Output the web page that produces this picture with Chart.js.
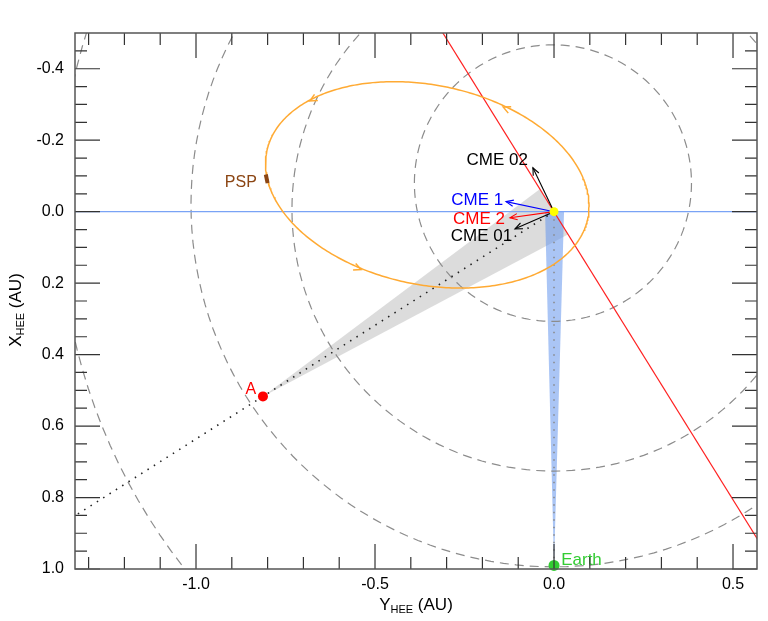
<!DOCTYPE html>
<html>
<head>
<meta charset="utf-8">
<script src="https://cdn.jsdelivr.net/npm/chart.js@4.4.0/dist/chart.umd.min.js"></script>
<style>
  html, body { margin: 0; padding: 0; background: #fff; }
</style>
</head>
<body>
<canvas id="hee" width="768" height="621"></canvas>
<script>
// axis ranges and tick labels (AU)
const xRange = [-1.338, 0.567];
const yRange = [-0.5, 1.0];
const xTickLabels = [-1.0, -0.5, 0.0, 0.5];
const yTickLabels = [-0.4, -0.2, 0.0, 0.2, 0.4, 0.6, 0.8, 1.0];

// dashed circles: centre x, centre y, radius
const circleX = [-0.003, 0.0, 0.0, 0.256];
const circleY = [-0.080, -0.006, -0.020, -0.011];
const circleR = [0.387, 0.732, 1.014, 1.637];

// PSP orbit (ellipse) and its direction arrows
const orbitCentre = [-0.354, -0.075];
const orbitAxes = [0.458, 0.279];
const orbitTiltDeg = 11.9;
const orbitArrowX = [-0.682, -0.142, -0.539];
const orbitArrowY = [-0.310, -0.293, 0.162];

// bodies
const sunPos = [0, 0];
const staPos = [-0.813, 0.517];
const earthPos = [0, 0.99];
const pspX = [-0.805, -0.800];
const pspY = [-0.104, -0.080];

// fields of view
const staWedgeX = [-0.813, -0.040, 0.040];
const staWedgeY = [0.517, -0.063, 0.063];
const earthWedgeX = [-0.025, 0.028, 0.0];
const earthWedgeY = [0.0, 0.0, 0.99];
const staLineEnd = [-1.338, 0.851];

// red line through the sun
const redLineX = [-0.316, 0.62];
const redLineY = [-0.509, 1.0];

// CME directions
const cmeNames = ['CME 02', 'CME 1', 'CME 2', 'CME 01'];
const cmeTipX = [-0.059, -0.134, -0.123, -0.109];
const cmeTipY = [-0.123, -0.028, 0.017, 0.048];
const cmeLabelX = [-0.073, -0.142, -0.137, -0.117];
const cmeLabelY = [-0.145, -0.031, 0.020, 0.070];
const cmeColors = ['#000000', '#0000ff', '#ff0000', '#000000'];

const FONT = '"Liberation Sans", Arial, Helvetica, sans-serif';

function pts(xs, ys) {
    return xs.map((x, i) => ({ x: x, y: ys[i] }));
}

function circlePoints(cx, cy, r) {
    const out = [];
    for (let k = 0; k <= 360; k += 2) {
        const t = k * Math.PI / 180;
        out.push({ x: cx + r * Math.cos(t), y: cy + r * Math.sin(t) });
    }
    return out;
}

// orbit traced in the direction of motion
const tilt = orbitTiltDeg * Math.PI / 180;
const orbitPts = [];
for (let k = 0; k <= 360; k += 1) {
    const t = -k * Math.PI / 180;
    const ca = orbitAxes[0] * Math.cos(t), sb = orbitAxes[1] * Math.sin(t);
    orbitPts.push({
        x: orbitCentre[0] + ca * Math.cos(tilt) - sb * Math.sin(tilt),
        y: orbitCentre[1] + ca * Math.sin(tilt) + sb * Math.cos(tilt)
    });
}

const datasets = [];

// wedges
datasets.push({
    data: pts(staWedgeX.concat(staWedgeX[0]), staWedgeY.concat(staWedgeY[0])),
    borderWidth: 0, borderColor: 'rgba(0,0,0,0)',
    backgroundColor: 'rgba(205,205,205,0.7)', fill: 'shape', order: 20
});
datasets.push({
    data: pts(earthWedgeX.concat(earthWedgeX[0]), earthWedgeY.concat(earthWedgeY[0])),
    borderWidth: 0, borderColor: 'rgba(0,0,0,0)',
    backgroundColor: 'rgba(100,149,237,0.55)', fill: 'shape', order: 19
});

// circles
circleR.forEach((r, i) => {
    datasets.push({
        data: circlePoints(circleX[i], circleY[i], r),
        borderColor: '#8c8c8c', borderWidth: 1.2, borderDash: [9, 6], order: 15
    });
});

// horizontal blue line
datasets.push({
    data: [{ x: xRange[0], y: 0 }, { x: xRange[1], y: 0 }],
    borderColor: '#7aa3f5', borderWidth: 1.4, order: 14
});

// dotted lines
datasets.push({
    data: [{ x: sunPos[0], y: sunPos[1] }, { x: staLineEnd[0], y: staLineEnd[1] }],
    borderColor: '#222', borderWidth: 1.6, borderDash: [1.5, 6], order: 13
});
datasets.push({
    data: [{ x: sunPos[0], y: sunPos[1] }, { x: earthPos[0], y: earthPos[1] }],
    borderColor: '#888', borderWidth: 1.5, borderDash: [1.5, 6], order: 13
});

// red line
datasets.push({
    data: pts(redLineX, redLineY),
    borderColor: '#ff2020', borderWidth: 1.2, order: 12
});

// orbit
datasets.push({
    data: orbitPts,
    borderColor: '#ffaa33', borderWidth: 1.5, order: 11
});

// CME shafts
cmeNames.forEach((n, i) => {
    datasets.push({
        data: [{ x: sunPos[0], y: sunPos[1] }, { x: cmeTipX[i], y: cmeTipY[i] }],
        borderColor: cmeColors[i], borderWidth: 1.1, order: 5
    });
});

// PSP position
datasets.push({
    data: pts(pspX, pspY),
    borderColor: '#8b4513', borderWidth: 4, borderCapStyle: 'butt', order: 4
});

// bodies
datasets.push({
    data: [{ x: sunPos[0], y: sunPos[1] }], showLine: false,
    pointRadius: 4.5, pointBackgroundColor: '#ffff00', pointBorderWidth: 0, order: 1
});
datasets.push({
    data: [{ x: staPos[0], y: staPos[1] }], showLine: false,
    pointRadius: 5, pointBackgroundColor: '#ff0000', pointBorderWidth: 0, order: 1
});
datasets.push({
    data: [{ x: earthPos[0], y: earthPos[1] }], showLine: false, clip: false,
    pointRadius: 5.5, pointBackgroundColor: '#33cc33', pointBorderWidth: 0, order: 1
});

function arrowHead(ctx, tx, ty, dx, dy, len, spread) {
    const ang = Math.atan2(dy, dx);
    ctx.beginPath();
    ctx.moveTo(tx - len * Math.cos(ang - spread), ty - len * Math.sin(ang - spread));
    ctx.lineTo(tx, ty);
    ctx.lineTo(tx - len * Math.cos(ang + spread), ty - len * Math.sin(ang + spread));
    ctx.stroke();
}

function drawSubTitle(ctx, cx, cy, main, sub, tail) {
    ctx.font = '17px ' + FONT;
    const w1 = ctx.measureText(main).width;
    const w3 = ctx.measureText(tail).width;
    ctx.font = '11px ' + FONT;
    const w2 = ctx.measureText(sub).width;
    let x = cx - (w1 + w2 + w3) / 2;
    ctx.textAlign = 'left';
    ctx.textBaseline = 'middle';
    ctx.font = '17px ' + FONT;
    ctx.fillText(main, x, cy);
    x += w1;
    ctx.font = '11px ' + FONT;
    ctx.fillText(sub, x, cy + 5);
    x += w2;
    ctx.font = '17px ' + FONT;
    ctx.fillText(tail, x, cy);
}

const overlay = {
    id: 'overlay',
    afterDatasetsDraw(chart) {
        const { ctx, chartArea: a, scales: { x, y } } = chart;
        const px = v => x.getPixelForValue(v);
        const py = v => y.getPixelForValue(v);
        ctx.save();

        // orbit arrows
        ctx.strokeStyle = '#ffaa33';
        ctx.lineWidth = 1.5;
        orbitArrowX.forEach((ax, i) => {
            let best = 0, bd = 1e9;
            orbitPts.forEach((p, j) => {
                const d = (p.x - ax) ** 2 + (p.y - orbitArrowY[i]) ** 2;
                if (d < bd) { bd = d; best = j; }
            });
            const p0 = orbitPts[best], p1 = orbitPts[Math.min(best + 1, orbitPts.length - 1)];
            arrowHead(ctx, px(ax), py(orbitArrowY[i]),
                px(p1.x) - px(p0.x), py(p1.y) - py(p0.y), 8, 0.45);
        });

        // CME arrow heads and labels
        ctx.lineWidth = 1.1;
        cmeNames.forEach((n, i) => {
            ctx.strokeStyle = cmeColors[i];
            arrowHead(ctx, px(cmeTipX[i]), py(cmeTipY[i]),
                px(cmeTipX[i]) - px(sunPos[0]), py(cmeTipY[i]) - py(sunPos[1]), 8, 0.4);
            ctx.fillStyle = cmeColors[i];
            ctx.font = '17px ' + FONT;
            ctx.textAlign = 'right';
            ctx.textBaseline = 'middle';
            ctx.fillText(n, px(cmeLabelX[i]), py(cmeLabelY[i]));
        });

        // body labels
        ctx.font = '16px ' + FONT;
        ctx.textBaseline = 'middle';
        ctx.textAlign = 'right';
        ctx.fillStyle = '#8b4513';
        ctx.fillText('PSP', px(-0.830), py(-0.081));
        ctx.fillStyle = '#ff0000';
        ctx.fillText('A', px(-0.832), py(0.498));
        ctx.textAlign = 'left';
        ctx.fillStyle = '#33cc33';
        ctx.font = '17px ' + FONT;
        ctx.fillText('Earth', px(0.020), py(0.976));

        // tick marks on all four sides
        ctx.strokeStyle = '#333';
        ctx.lineWidth = 1.2;
        ctx.beginPath();
        for (let k = -13; k <= 5; k++) {
            const xp = px(k / 10);
            const len = k % 5 === 0 ? 25 : 12;
            ctx.moveTo(xp, a.bottom); ctx.lineTo(xp, a.bottom - len);
            ctx.moveTo(xp, a.top); ctx.lineTo(xp, a.top + len);
        }
        for (let k = -9; k <= 20; k++) {
            const yp = py(k * 0.05);
            const len = k % 4 === 0 ? 25 : 12;
            ctx.moveTo(a.left, yp); ctx.lineTo(a.left + len, yp);
            ctx.moveTo(a.right, yp); ctx.lineTo(a.right - len, yp);
        }
        ctx.stroke();

        // frame
        ctx.strokeStyle = '#555';
        ctx.lineWidth = 1.5;
        ctx.strokeRect(a.left, a.top, a.right - a.left, a.bottom - a.top);

        // axis titles
        ctx.fillStyle = '#000';
        drawSubTitle(ctx, (a.left + a.right) / 2, 605, 'Y', 'HEE', ' (AU)');
        ctx.translate(16, 310);
        ctx.rotate(-Math.PI / 2);
        drawSubTitle(ctx, 0, 0, 'X', 'HEE', ' (AU)');
        ctx.restore();
    }
};

new Chart(document.getElementById('hee'), {
    type: 'line',
    data: { datasets: datasets },
    options: {
        responsive: false,
        animation: false,
        layout: { padding: { top: 33, right: 11, left: 0, bottom: 0 } },
        elements: {
            line: { tension: 0, fill: false },
            point: { radius: 0, hoverRadius: 0 }
        },
        plugins: { legend: { display: false }, tooltip: { enabled: false } },
        scales: {
            x: {
                type: 'linear', min: xRange[0], max: xRange[1],
                grid: { display: false, drawTicks: false }, border: { display: false },
                ticks: {
                    color: '#000', font: { family: FONT, size: 16 }, padding: 6,
                    maxRotation: 0, autoSkip: false,
                    callback: v => v.toFixed(1)
                },
                afterBuildTicks: s => { s.ticks = xTickLabels.map(v => ({ value: v })); },
                afterFit: s => { s.height = 52; }
            },
            y: {
                type: 'linear', reverse: true, min: yRange[0], max: yRange[1],
                grid: { display: false, drawTicks: false }, border: { display: false },
                ticks: {
                    color: '#000', font: { family: FONT, size: 16 }, padding: 11,
                    autoSkip: false,
                    callback: v => v.toFixed(1)
                },
                afterBuildTicks: s => { s.ticks = yTickLabels.map(v => ({ value: v })); },
                afterFit: s => { s.width = 75; }
            }
        }
    },
    plugins: [overlay]
});
</script>
</body>
</html>
